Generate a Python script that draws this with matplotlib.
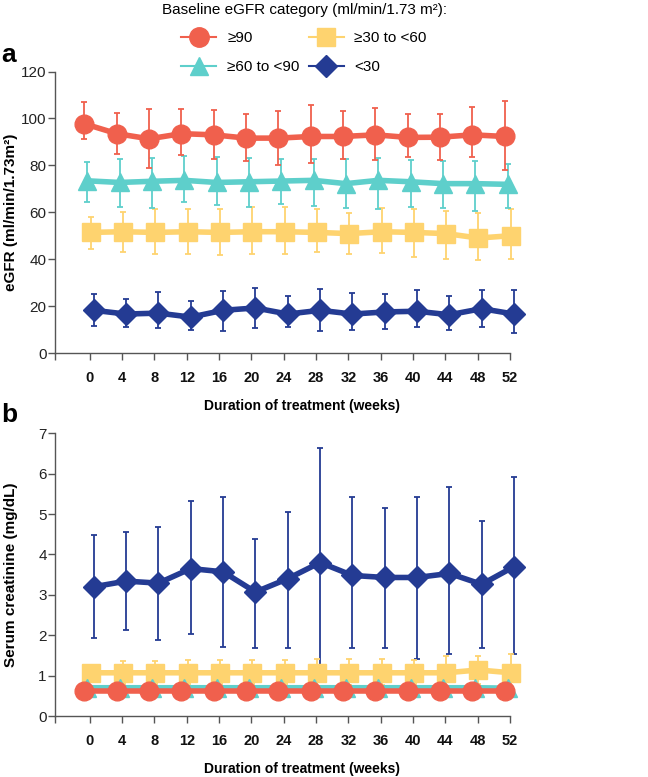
import numpy as np
import matplotlib
matplotlib.use("Agg")
import matplotlib.pyplot as plt
from matplotlib.lines import Line2D

plt.rcParams['font.family'] = ['Liberation Sans', 'DejaVu Sans']

weeks = [0, 4, 8, 12, 16, 20, 24, 28, 32, 36, 40, 44, 48, 52]
categories = ['≥90', '≥60 to <90', '≥30 to <60', '<30']

# panel a: eGFR mean, upper and lower error-bar ends
egfr_ge90 = [97.7, 93.5, 91.3, 93.5, 93.0, 91.6, 91.6, 92.3, 92.3, 93.0, 91.9, 92.0, 93.0, 92.3]
egfr_ge90_hi = [107.2, 102.3, 104.1, 104.1, 103.7, 101.7, 103.3, 105.8, 103.3, 104.3, 101.8, 101.8, 105.0, 107.5]
egfr_ge90_lo = [91.3, 85.0, 79.0, 84.4, 82.7, 81.7, 80.1, 81.0, 82.8, 82.4, 83.4, 82.4, 83.5, 78.0]

egfr_60_90 = [73.4, 72.7, 73.2, 73.6, 72.7, 73.0, 73.3, 73.6, 72.2, 73.6, 73.0, 72.2, 72.2, 71.9]
egfr_60_90_hi = [81.4, 82.8, 83.1, 83.8, 83.5, 83.1, 82.7, 82.7, 82.7, 83.1, 82.2, 81.7, 81.7, 80.7]
egfr_60_90_lo = [64.3, 62.2, 61.8, 64.3, 62.9, 62.4, 63.5, 62.8, 61.8, 61.5, 62.1, 61.8, 60.4, 61.8]

egfr_30_60 = [51.4, 51.7, 51.4, 51.7, 51.4, 51.7, 51.7, 51.4, 50.9, 51.7, 51.4, 50.9, 49.0, 50.0]
egfr_30_60_hi = [58.1, 60.2, 61.2, 61.2, 61.2, 62.1, 62.1, 61.2, 59.7, 61.8, 61.2, 60.7, 59.7, 61.2]
egfr_30_60_lo = [44.3, 42.9, 42.0, 42.0, 41.8, 42.0, 42.2, 42.9, 42.0, 42.6, 40.8, 40.1, 39.8, 40.1]

egfr_lt30 = [18.2, 16.6, 17.0, 15.3, 18.2, 19.2, 16.6, 18.2, 16.6, 17.5, 17.8, 16.3, 18.9, 16.6]
egfr_lt30_hi = [25.3, 23.2, 26.0, 22.0, 26.6, 27.8, 24.4, 27.3, 25.6, 25.1, 26.7, 24.4, 26.7, 26.7]
egfr_lt30_lo = [11.6, 10.9, 10.7, 9.7, 9.2, 10.7, 10.9, 9.2, 9.9, 10.2, 10.9, 9.9, 10.9, 8.5]

# panel b: serum creatinine
scr_ge90 = [0.62] * 14
scr_ge90_hi = [0.66] * 14
scr_ge90_lo = [0.58] * 14

scr_60_90 = [0.70, 0.70, 0.70, 0.70, 0.70, 0.70, 0.70, 0.70, 0.70, 0.70, 0.70, 0.70, 0.70, 0.69]
scr_60_90_hi = [0.80] * 14
scr_60_90_lo = [0.60] * 14

scr_30_60 = [1.07, 1.07, 1.07, 1.07, 1.07, 1.07, 1.07, 1.07, 1.07, 1.07, 1.07, 1.07, 1.14, 1.07]
scr_30_60_hi = [1.26, 1.36, 1.35, 1.39, 1.39, 1.39, 1.39, 1.42, 1.40, 1.40, 1.39, 1.49, 1.49, 1.53]
scr_30_60_lo = [0.88, 0.80, 0.80, 0.78, 0.78, 0.78, 0.78, 0.74, 0.76, 0.76, 0.78, 0.70, 0.80, 0.65]

scr_lt30 = [3.20, 3.34, 3.29, 3.65, 3.57, 3.07, 3.40, 3.80, 3.48, 3.43, 3.43, 3.53, 3.26, 3.70]
scr_lt30_hi = [4.48, 4.56, 4.68, 5.33, 5.43, 4.38, 5.05, 6.63, 5.43, 5.15, 5.43, 5.67, 4.83, 5.93]
scr_lt30_lo = [1.92, 2.13, 1.88, 2.03, 1.71, 1.69, 1.69, 0.97, 1.68, 1.69, 1.40, 1.53, 1.68, 1.54]

colors = ['#F0604D', '#5ECFCB', '#FED36F', '#243B93']
markers = ['o', '^', 's', 'D']
msizes = [13.5, 13, 13, 11]
offsets = [-0.65, -0.3, 0.1, 0.5]   # dodge in weeks
zorders = [5, 4, 3, 2]

panel_a = [(egfr_ge90, egfr_ge90_lo, egfr_ge90_hi),
           (egfr_60_90, egfr_60_90_lo, egfr_60_90_hi),
           (egfr_30_60, egfr_30_60_lo, egfr_30_60_hi),
           (egfr_lt30, egfr_lt30_lo, egfr_lt30_hi)]
panel_b = [(scr_ge90, scr_ge90_lo, scr_ge90_hi),
           (scr_60_90, scr_60_90_lo, scr_60_90_hi),
           (scr_30_60, scr_30_60_lo, scr_30_60_hi),
           (scr_lt30, scr_lt30_lo, scr_lt30_hi)]

W, H = 648, 777
fig = plt.figure(figsize=(W / 100, H / 100), dpi=100)

x_left = -4.3


def draw_panel(rect, data, ylim, yticks, ylabel, letter, letter_y):
    ax = fig.add_axes(rect)
    x = np.array(weeks, dtype=float)
    for (mean, lo, hi), c, m, ms, off, z in zip(data, colors, markers, msizes, offsets, zorders):
        mean = np.array(mean); lo = np.array(lo); hi = np.array(hi)
        ax.errorbar(x + off, mean, yerr=[mean - lo, hi - mean], fmt='none',
                    ecolor=c, elinewidth=1.3, capsize=2.5, capthick=1.3,
                    zorder=z, clip_on=False)
        ax.plot(x + off, mean, color=c, lw=4, marker=m, ms=ms,
                mec=c, mfc=c, zorder=z + 0.5, clip_on=False)

    ax.set_xlim(x_left, 52)
    ax.set_ylim(*ylim)
    ax.set_yticks(yticks)
    ax.set_xticks(weeks)
    ax.set_xticks([x_left], minor=True)
    ax.set_xticklabels([str(w) for w in weeks], fontweight='bold', fontsize=10.5)
    for s in ['top', 'right']:
        ax.spines[s].set_visible(False)
    for s in ['left', 'bottom']:
        ax.spines[s].set_color('#555555')
        ax.spines[s].set_linewidth(1.0)
    ax.tick_params(axis='y', length=5, width=1, color='#555555', labelsize=11,
                   labelcolor='#222222', pad=1)
    ax.tick_params(axis='x', which='both', length=5, width=1, color='#555555',
                   labelcolor='#111111', pad=8)
    ax.set_xlabel('Duration of treatment (weeks)', fontweight='bold', fontsize=10, va='top')
    ax.xaxis.set_label_coords(0.543, -0.163)
    ax.set_ylabel(ylabel, fontweight='bold', fontsize=11)
    ax.yaxis.set_label_coords(-0.082, 0.5)
    fig.text(0.002, letter_y, letter, fontsize=19, fontweight='bold', va='center', ha='left')
    return ax


ax_a = draw_panel([55 / W, 1 - 353 / H, 455 / W, 281.5 / H], panel_a,
                  (0, 120), range(0, 121, 20), 'eGFR (ml/min/1.73m²)', 'a', 1 - 55 / H)
ax_b = draw_panel([55 / W, 1 - 716 / H, 455 / W, 282.7 / H], panel_b,
                  (0, 7), range(0, 8), 'Serum creatinine (mg/dL)', 'b', 1 - 415 / H)

handles = [Line2D([0], [0], color=c, lw=1.5, marker=m, ms=ms + 0.5, mfc=c, mec=c)
           for c, m, ms in zip(colors, markers, msizes)]
leg = fig.legend(handles, categories, ncol=2, loc='upper center',
                 bbox_to_anchor=(304 / W, 1.006), frameon=False, fontsize=11,
                 title='Baseline eGFR category (ml/min/1.73 m²):', title_fontsize=11,
                 handlelength=2.3, handletextpad=0.7, columnspacing=0.6,
                 labelspacing=0.95, borderpad=0.0)

fig.savefig('out.png', dpi=100)
